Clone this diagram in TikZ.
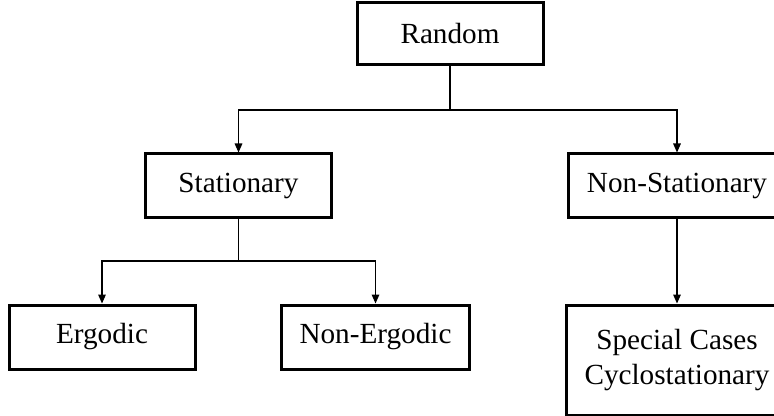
\documentclass[tikz,border=0pt]{standalone}
\usepackage{fontspec}
\setmainfont{Liberation Serif}
\usetikzlibrary{arrows.meta}
\begin{document}
\begin{tikzpicture}[x=0.5pt,y=-0.5pt,>={Triangle[length=4.5pt,width=3.8pt]},line join=miter,
		font=\fontsize{14.6}{17.5}\selectfont,
		box/.style={draw,line width=1.5pt,minimum width=93pt,minimum height=32pt,inner xsep=9pt,align=center},
		link/.style={line width=0.6pt}]
			\useasboundingbox (0,0) rectangle (774,416);
			\node[box,minimum height=31pt] (rand) at (450,34) {Random};
			\node[box] (stat) at (238.5,186) {Stationary};
			\node[box] (nstat) at (677,186) {Non-Stationary};
			\node[box] (erg) at (102,337) {Ergodic};
			\node[box] (nerg) at (375.5,337) {Non-Ergodic};
			\node[box,minimum height=55pt] (spec) at (677,360) {Special Cases\\Cyclostationary};
			\coordinate (s1) at (450,110);
			\coordinate (s2) at (238.5,261);
			\draw[link] (rand)--(s1);
			\draw[link,->] (s1)-|(stat);
			\draw[link,->] (s1)-|(nstat);
			\draw[link] (stat)--(s2);
			\draw[link,->] (s2)-|(erg);
			\draw[link,->] (s2)-|(nerg);
			\draw[link,->] (nstat)--(spec);
		\end{tikzpicture}
\end{document}
